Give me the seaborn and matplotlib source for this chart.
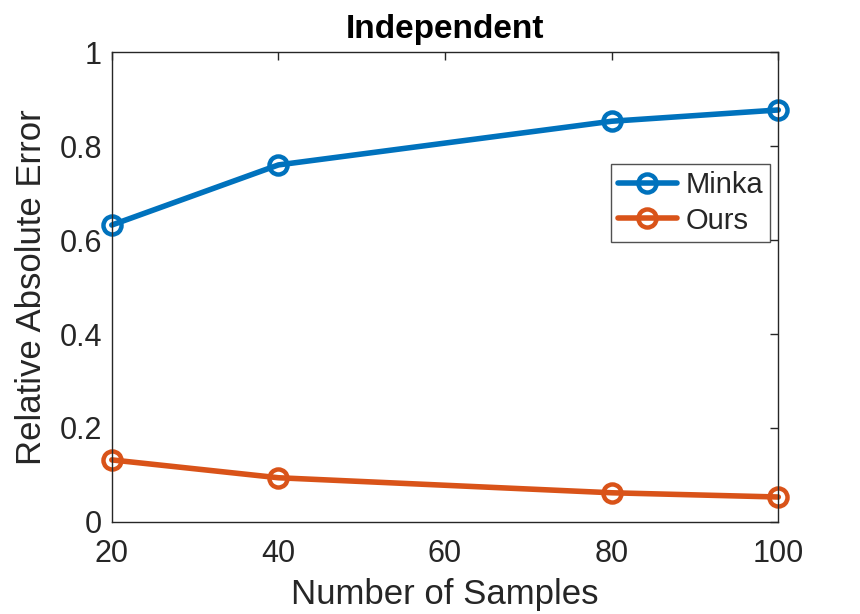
import matplotlib
matplotlib.use("Agg")
import matplotlib.pyplot as plt
import seaborn as sns
import pandas as pd

samples = [20, 40, 80, 100]
minka = [0.632, 0.760, 0.853, 0.877]
ours = [0.132, 0.094, 0.062, 0.053]
series_names = ["Minka", "Ours"]
colors = ["#0072BD", "#D95319"]

df = pd.DataFrame({
    "samples": samples * 2,
    "error": minka + ours,
    "method": [series_names[0]] * 4 + [series_names[1]] * 4,
})

sns.set_style("white")
plt.rcParams['font.family'] = ['Liberation Sans', 'DejaVu Sans']

fig = plt.figure(figsize=(8.6, 6.14), dpi=100)
ax = fig.add_axes([0.130, 0.150, 0.775, 0.765])
sns.lineplot(data=df, x="samples", y="error", hue="method", palette=colors,
             marker="o", markersize=13, markerfacecolor="none", markeredgewidth=3.2,
             linewidth=4, ax=ax, legend=True)
for line, c in zip(ax.get_lines(), colors):
    line.set_markeredgecolor(c)
    line.set_clip_on(False)

ax.set_xlim(20, 100)
ax.set_ylim(0, 1)
ax.set_xticks([20, 40, 60, 80, 100])
ax.set_yticks([0, 0.2, 0.4, 0.6, 0.8, 1])
ax.set_yticklabels(["0", "0.2", "0.4", "0.6", "0.8", "1"])
ax.tick_params(direction="in", length=6, width=1, labelsize=22, top=True, right=True,
               colors="#262626")
ax.tick_params(axis="x", pad=12)
ax.tick_params(axis="y", pad=7)
for s in ax.spines.values():
    s.set_color("#262626")
    s.set_linewidth(1)
ax.set_xlabel("Number of Samples", fontsize=25, color="#262626", labelpad=7)
ax.set_ylabel("Relative Absolute Error", fontsize=25, color="#262626", labelpad=8)
ax.set_title("Independent", fontsize=24, fontweight="bold", color="black", pad=10)

handles, labels = ax.get_legend_handles_labels()
for h, c in zip(handles, colors):
    h.set_markeredgecolor(c)
    h.set_markerfacecolor("none")
leg = ax.legend(handles, labels, loc="upper right", bbox_to_anchor=(0.988, 0.762),
                fontsize=21, frameon=True, fancybox=False, edgecolor="#262626",
                handlelength=2.0, borderpad=0.25, labelspacing=0.25, handletextpad=0.3,
                borderaxespad=0)
leg.get_frame().set_linewidth(1)

fig.savefig("out.png", dpi=100, facecolor="white")
